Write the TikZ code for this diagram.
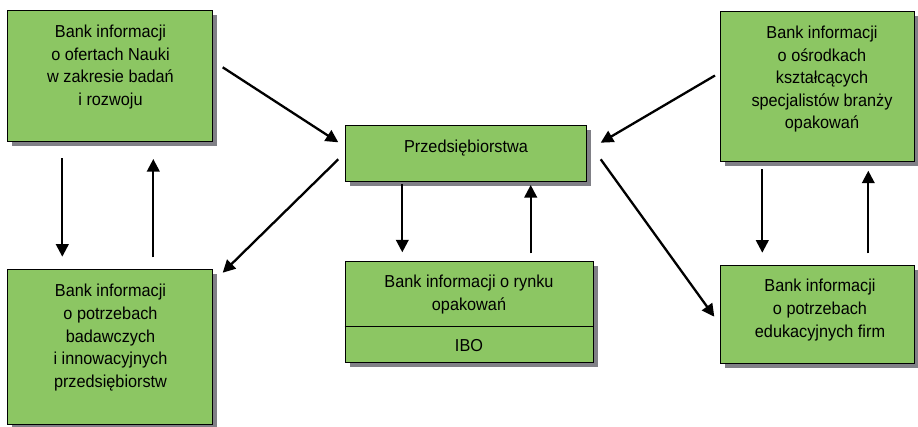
\documentclass[tikz,border=0pt]{standalone}
\usepackage{fontspec}
\setmainfont{Liberation Sans}[FakeStretch=0.94]
\usetikzlibrary{arrows.meta,shadows}
\definecolor{boxgreen}{RGB}{140,198,99}
\definecolor{shadowgray}{RGB}{128,128,134}
\begin{document}
\begin{tikzpicture}[x=1pt,y=-1pt,
  panel/.style={rectangle, draw=black, line width=0.8pt, fill=boxgreen, inner sep=0pt,
    drop shadow={shadow xshift=4.5pt, shadow yshift=-4.5pt, fill=shadowgray, opacity=1}},
  lbl/.style={align=center, inner sep=0pt, anchor=north, text=black,
    font=\fontsize{17.3pt}{22.6pt}\selectfont},
  arr/.style={line width=2.3pt, -{Triangle[length=12.5pt,width=12.5pt]}}]
\useasboundingbox (0,0) rectangle (918,426);

% boxes
\node[panel, minimum width=204.7pt, minimum height=131.7pt] (tl) at (109.65,75.85) {};
\node[panel, minimum width=205pt, minimum height=155pt] (bl) at (109.5,346.5) {};
\node[panel, minimum width=241.4pt, minimum height=56pt] (pr) at (466,153) {};
\node[panel, minimum width=248pt, minimum height=101.3pt] (ibo) at (469,311.65) {};
\node[panel, minimum width=194pt, minimum height=149.3pt] (tr) at (817,86.35) {};
\node[panel, minimum width=194pt, minimum height=98pt] (br) at (817,314) {};
\draw[line width=0.8pt] ([yshift=36.3pt]ibo.south west) -- ([yshift=36.3pt]ibo.south east);

% labels
\node[lbl] (tlt) at (110.5,24.8) {Bank informacji\\o ofertach Nauki\\w zakresie badań\\i rozwoju};
\node[lbl] (blt) at (110.5,284.2) {Bank informacji\\o potrzebach\\badawczych\\i innowacyjnych\\przedsiębiorstw};
\node[lbl] (prt) at (466,140) {Przedsiębiorstwa};
\node[lbl] (ibot) at (469,274.8) {Bank informacji o rynku\\opakowań};
\node[lbl] (iboname) at (469,339.3) {IBO};
\node[lbl] (trt) at (822,25.8) {Bank informacji\\o ośrodkach\\kształcących\\specjalistów branży\\opakowań};
\node[lbl] (brt) at (820,279.2) {Bank informacji\\o potrzebach\\edukacyjnych firm};

% connector end points
\coordinate (a1s) at (222.7,67.3);  \coordinate (a1e) at (338.3,142.3);
\coordinate (a2s) at (338.3,159.3); \coordinate (a2e) at (222.7,272.7);
\coordinate (a3s) at (715,75.5);    \coordinate (a3e) at (600.7,142.7);
\coordinate (a4s) at (600.7,159.3); \coordinate (a4e) at (714.3,316.7);
\coordinate (v1s) at (62.3,158.3);  \coordinate (v1e) at (62.3,256.7);
\coordinate (v2s) at (153.3,257.3); \coordinate (v2e) at (153.3,159);
\coordinate (v3s) at (402.3,184.3); \coordinate (v3e) at (402.3,252.3);
\coordinate (v4s) at (530.7,253.3); \coordinate (v4e) at (530.7,185);
\coordinate (v5s) at (762.3,169.3); \coordinate (v5e) at (762.3,252.7);
\coordinate (v6s) at (868.3,253.3); \coordinate (v6e) at (868.3,170.7);

% connectors
\draw[arr] (a1s) -- (a1e);
\draw[arr] (a2s) -- (a2e);
\draw[arr] (a3s) -- (a3e);
\draw[arr] (a4s) -- (a4e);
\draw[arr] (v1s) -- (v1e);
\draw[arr] (v2s) -- (v2e);
\draw[arr] (v3s) -- (v3e);
\draw[arr] (v4s) -- (v4e);
\draw[arr] (v5s) -- (v5e);
\draw[arr] (v6s) -- (v6e);
\end{tikzpicture}
\end{document}
